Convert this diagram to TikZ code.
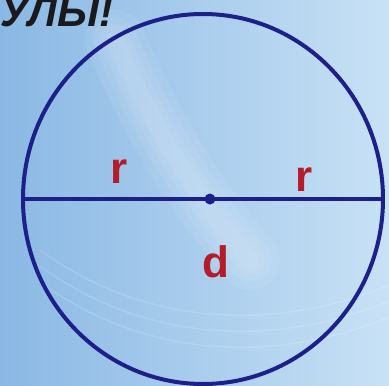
\documentclass[tikz,border=0pt]{standalone}
\usepackage{fontspec}
\setmainfont{Liberation Sans}
\definecolor{RingColor}{RGB}{30,32,138}
\definecolor{LabelColor}{RGB}{180,28,42}
\definecolor{TitleColor}{RGB}{25,25,30}
\definecolor{SkyLeft}{RGB}{138,184,228}
\definecolor{SkyRight}{RGB}{200,225,245}

\begin{document}
\begin{tikzpicture}[x=1pt,y=-1pt]
\useasboundingbox (0,0) rectangle (389,386);
\clip (0,0) rectangle (389,386);
\shade[left color=SkyLeft,right color=SkyRight] (0,0) rectangle (389,386);
% soft light streaks
\foreach \w in {60,44,30,18}{
    \draw[white,opacity=0.07,line width=\w pt,line cap=round]
        (115,40) .. controls (150,120) and (190,190) .. (250,260);
}
\foreach \dy in {0,16,32}{
    \draw[white,opacity=0.15,line width=1.5pt]
        (40,250+\dy) .. controls (150,330+\dy) and (280,330+\dy) .. (389,285+\dy);
}

\node[font=\bfseries\itshape\fontsize{42}{42}\selectfont,text=TitleColor,anchor=base east]
    (title) at (117,26) {УЛЫ!};

\draw[RingColor,line width=4pt] (203,199) ellipse [x radius=180,y radius=185];
\coordinate (west) at (23,199);
\coordinate (east) at (383,199);
\draw[RingColor,line width=4pt] (west) -- (east);
\node[circle,fill=RingColor,inner sep=0pt,minimum size=11pt] (centre) at (210,199) {};

\node[font=\bfseries\fontsize{44}{44}\selectfont,text=LabelColor,anchor=base]
    (rleft) at (119,183) {r};
\node[font=\bfseries\fontsize{44}{44}\selectfont,text=LabelColor,anchor=base]
    (rright) at (304,191) {r};
\node[font=\bfseries\fontsize{44}{44}\selectfont,text=LabelColor,anchor=base]
    (diam) at (216,277) {d};
\end{tikzpicture}
\end{document}
